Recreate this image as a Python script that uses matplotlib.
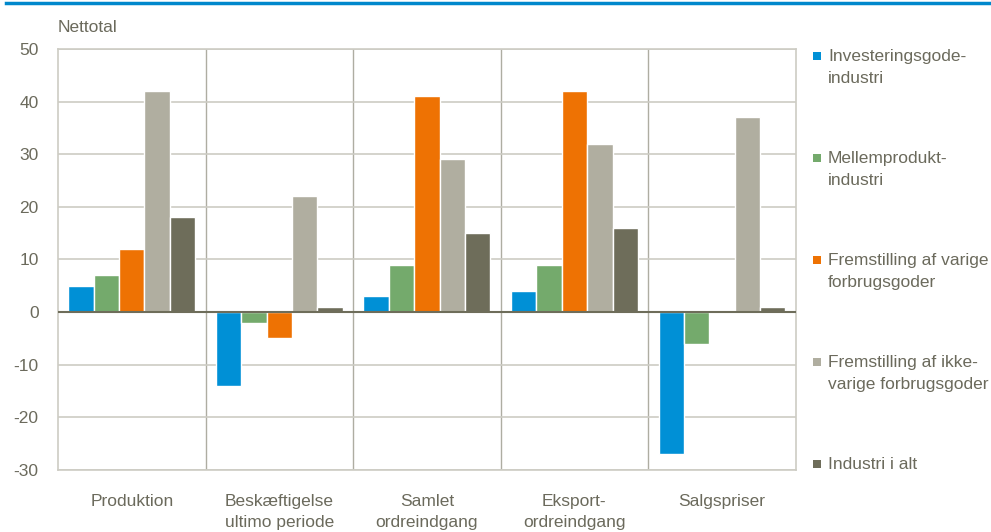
import matplotlib
matplotlib.use('Agg')
import matplotlib.pyplot as plt
from matplotlib.patches import Rectangle
import numpy as np

plt.rcParams['font.family'] = ['Liberation Sans', 'DejaVu Sans']

# data
categories = ['Produktion', 'Beskæftigelse\nultimo periode', 'Samlet\nordreindgang',
              'Eksport-\nordreindgang', 'Salgspriser']
series_names = ['Investeringsgode-\nindustri', 'Mellemprodukt-\nindustri',
                'Fremstilling af varige\nforbrugsgoder', 'Fremstilling af ikke-\nvarige forbrugsgoder',
                'Industri i alt']
investering = [5, -14, 3, 4, -27]
mellemprodukt = [7, -2, 9, 9, -6]
varige = [12, -5, 41, 42, 0]
ikke_varige = [42, 22, 29, 32, 37]
industri_alt = [18, 1, 15, 16, 1]
yticks = [-30, -20, -10, 0, 10, 20, 30, 40, 50]

colors = ['#0090d6', '#74aa6c', '#ee7203', '#b0aea0', '#6e6d5a']
txt = '#6b6a5c'
grid = '#cdccc4'
fs = 12.5

values = [investering, mellemprodukt, varige, ikke_varige, industri_alt]

fig = plt.figure(figsize=(9.91, 5.32), dpi=100)
ax = fig.add_axes([0.0585, 0.1165, 0.7445, 0.7915])

x = np.arange(len(categories))
w = 0.172
for i, (vals, c) in enumerate(zip(values, colors)):
    ax.bar(x + (i - 2) * w, vals, w, color=c, edgecolor='white', linewidth=1, zorder=3)

ax.set_xlim(-0.5, len(categories) - 0.5)
ax.set_ylim(-30, 50)
ax.set_yticks(yticks)
ax.set_yticklabels([str(t) for t in yticks], fontsize=fs, color=txt)
ax.set_xticks(x)
ax.set_xticklabels(categories, fontsize=fs, color=txt, linespacing=1.5, va='top')
ax.tick_params(axis='both', length=0)
ax.tick_params(axis='y', pad=14)
ax.tick_params(axis='x', pad=17)

ax.grid(axis='y', color=grid, linewidth=1.2, zorder=0)
for b in np.arange(0.5, len(categories) - 0.5, 1):
    ax.axvline(b, color='#aeada2', linewidth=1, zorder=1)
ax.axhline(0, color='#6e6d5a', linewidth=1.5, zorder=4)
for s in ax.spines.values():
    s.set_color(grid)
    s.set_linewidth(1.2)

fig.text(58 / 991, 1 - 27 / 532, 'Nettotal', fontsize=fs, color=txt, va='center', ha='left')

# top blue rule
fig.add_artist(plt.Line2D([6 / 991, 1], [1 - 3 / 532, 1 - 3 / 532], color='#0088cc', linewidth=2.5))

# legend
for i, (name, c) in enumerate(zip(series_names, colors)):
    y = 56 + i * 102
    fig.add_artist(Rectangle((813 / 991, 1 - (y + 4) / 532), 8 / 991, 8 / 532,
                             facecolor=c, edgecolor='none', transform=fig.transFigure))
    fig.text(828 / 991, 1 - (y - 7) / 532, name, fontsize=fs, color=txt, va='top', ha='left',
             linespacing=1.55)

plt.savefig('out.png', dpi=100)
